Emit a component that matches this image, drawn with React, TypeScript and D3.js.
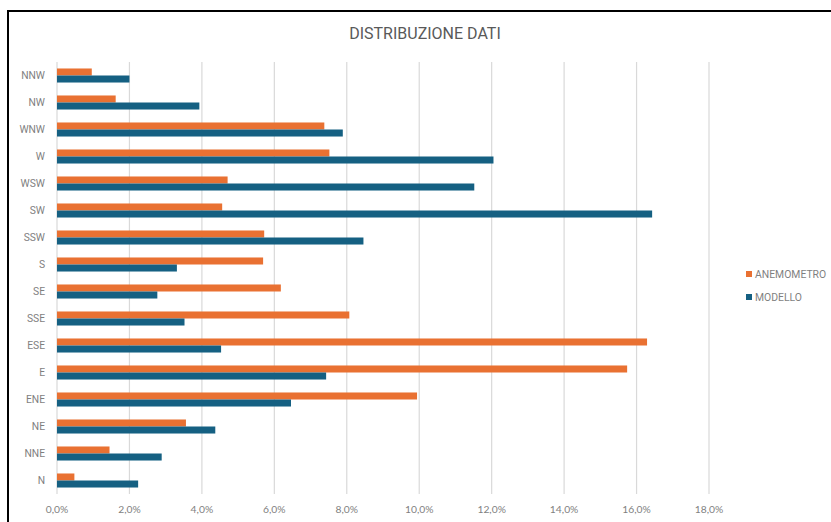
import React, { useEffect, useRef } from 'react';
import * as d3 from 'd3';

const categories = ['N', 'NNE', 'NE', 'ENE', 'E', 'ESE', 'SSE', 'SE', 'S', 'SSW', 'SW', 'WSW', 'W', 'WNW', 'NW', 'NNW'];
const anemometro = [0.48, 1.45, 3.56, 9.94, 15.74, 16.29, 8.07, 6.18, 5.69, 5.72, 4.56, 4.71, 7.52, 7.38, 1.62, 0.96];
const modello = [2.24, 2.89, 4.37, 6.46, 7.43, 4.53, 3.52, 2.77, 3.31, 8.46, 16.43, 11.52, 12.05, 7.89, 3.93, 2.0];
const xTicks = [0, 2, 4, 6, 8, 10, 12, 14, 16, 18];
const seriesNames = ['ANEMOMETRO', 'MODELLO'];

const COLORS = ['#E97132', '#156082'];
const W = 831;
const H = 522;

const App = () => {
    const svgRef = useRef<SVGSVGElement | null>(null);

    useEffect(() => {
        const svg = d3.select(svgRef.current);
        svg.selectAll('*').remove();

        const marginLeft = 57;
        const plotRight = 709;
        const plotTop = 62;
        const plotBottom = 494;

        // frame
        svg.append('rect')
            .attr('x', 8)
            .attr('y', 11)
            .attr('width', 900)
            .attr('height', 600)
            .attr('fill', 'white')
            .attr('stroke', '#000')
            .attr('stroke-width', 2);

        svg.append('text')
            .attr('x', 425)
            .attr('y', 39)
            .attr('text-anchor', 'middle')
            .style('font-family', 'Roboto, sans-serif')
            .style('font-size', '16px')
            .style('fill', '#595959')
            .text('DISTRIBUZIONE DATI');

        const x = d3.scaleLinear().domain([0, 18]).range([marginLeft, plotRight]);

        const y = d3.scaleBand()
            .domain([...categories].reverse())
            .range([plotTop, plotBottom])
            .paddingInner(0.48)
            .paddingOuter(0.24);

        const ySub = d3.scaleBand()
            .domain(seriesNames)
            .range([0, y.bandwidth()]);

        // grid
        svg.append('g')
            .selectAll('line')
            .data(xTicks)
            .join('line')
            .attr('x1', d => x(d))
            .attr('x2', d => x(d))
            .attr('y1', plotTop)
            .attr('y2', plotBottom)
            .attr('stroke', '#D9D9D9')
            .attr('stroke-width', 1.2);

        // x tick labels
        svg.append('g')
            .selectAll('text')
            .data(xTicks)
            .join('text')
            .attr('x', d => x(d))
            .attr('y', 513)
            .attr('text-anchor', 'middle')
            .style('font-family', 'Lato, sans-serif')
            .style('font-size', '10.3px')
            .style('fill', '#7F7F7F')
            .text(d => d.toFixed(1).replace('.', ',') + '%');

        // y labels
        svg.append('g')
            .selectAll('text')
            .data(categories)
            .join('text')
            .attr('x', 45)
            .attr('y', d => (y(d) ?? 0) + y.bandwidth() / 2)
            .attr('dy', '0.35em')
            .attr('text-anchor', 'end')
            .style('font-family', 'Roboto, sans-serif')
            .style('font-size', '10.3px')
            .style('fill', '#7F7F7F')
            .text(d => d);

        const series = [anemometro, modello];
        series.forEach((vals, si) => {
            svg.append('g')
                .selectAll('rect')
                .data(vals)
                .join('rect')
                .attr('x', x(0))
                .attr('y', (d, i) => (y(categories[i]) ?? 0) + (ySub(seriesNames[si]) ?? 0))
                .attr('width', d => x(d) - x(0))
                .attr('height', ySub.bandwidth())
                .attr('fill', COLORS[si]);
        });

        // legend
        const legend = svg.append('g');
        seriesNames.forEach((name, i) => {
            const ly = 274 + i * 23;
            legend.append('rect')
                .attr('x', 746)
                .attr('y', ly - 3)
                .attr('width', 6)
                .attr('height', 6)
                .attr('fill', COLORS[i]);
            legend.append('text')
                .attr('x', 755)
                .attr('y', ly)
                .attr('dy', '0.35em')
                .style('font-family', 'Roboto, sans-serif')
                .style('font-size', '10.4px')
                .style('fill', '#7F7F7F')
                .text(name);
        });
    }, []);

    return (
        <svg
            ref={svgRef}
            width={W}
            height={H}
            style={{ position: 'absolute', left: 0, top: 0, background: 'white' }}
        />
    );
};

export default App;
